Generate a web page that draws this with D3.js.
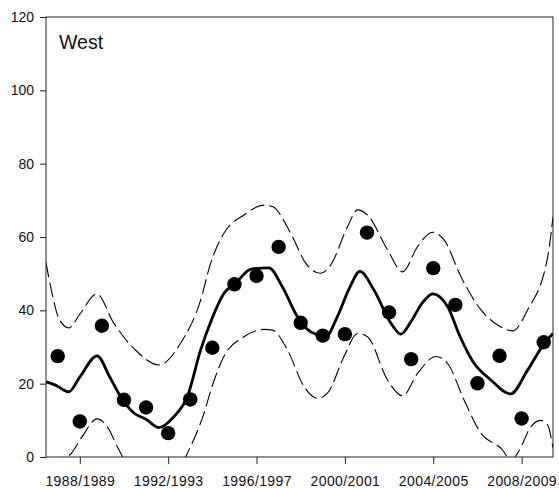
<!DOCTYPE html>
<html>
<head>
<meta charset="utf-8">
<script src="https://cdn.jsdelivr.net/npm/d3@7"></script>
<style>
  html, body { margin: 0; padding: 0; background: #fff; }
  svg { display: block; }
  text { font-family: "Liberation Sans", Arial, sans-serif; fill: #111; }
</style>
</head>
<body>
<svg id="chart" width="559" height="488"></svg>
<script>
// ---- data ----
const panelTitle = "West";
const obsYears = [1987,1988,1989,1990,1991,1992,1993,1994,1995,1996,1997,1998,1999,2000,2001,2002,2003,2004,2005,2006,2007,2008,2009];
const obsValues = [27.5,9.7,35.8,15.6,13.5,6.5,15.7,29.8,47.1,49.4,57.3,36.6,33.1,33.5,61.2,39.4,26.7,51.5,41.5,20.1,27.6,10.5,31.3];

const fitYears = [1986.47,1986.9,1987.5,1988.0,1988.78,1989.35,1989.84,1990.45,1991.0,1991.58,1992.26,1992.87,1993.47,1994.0,1994.52,1995.05,1995.73,1996.56,1997.17,1997.85,1998.3,1998.76,1999.13,1999.66,2000.2,2000.68,2001.32,2002.08,2002.53,2003.0,2003.5,2003.97,2004.65,2005.2,2005.8,2006.61,2007.5,2008.27,2009.03,2009.42];
const fitValues = [20.5,19.6,17.8,21.8,27.6,21.9,16.5,12.0,10.3,8.0,11.0,16.5,29.2,38.0,44.6,47.4,51.2,51.6,46.4,38.3,34.8,33.3,32.8,38.3,46.0,50.6,45.5,36.5,33.5,37.0,42.0,44.5,41.0,33.0,26.0,21.0,17.2,23.7,31.0,33.7];

const upperYears = [1986.47,1986.75,1987.05,1987.5,1988.03,1988.76,1989.54,1990.6,1991.58,1992.56,1993.47,1993.92,1994.52,1995.43,1996.34,1996.72,1997.55,1998.23,1998.9,1999.36,2000.12,2000.57,2001.02,2001.93,2002.61,2003.29,2003.97,2004.49,2005.25,2006.16,2006.91,2007.6,2008.27,2009.18,2009.42];
const upperValues = [53.0,44.5,37.8,35.2,39.2,44.5,36.5,28.7,25.1,31.0,42.8,52.8,61.0,66.0,68.7,68.3,61.0,52.8,50.1,52.4,62.8,67.4,66.0,56.5,50.5,57.4,61.3,59.2,49.2,40.1,36.0,34.4,40.1,54.6,65.5];

const lowerYears = [1986.47,1987.0,1987.25,1987.55,1988.1,1988.78,1989.24,1989.7,1990.3,1991.0,1991.6,1992.3,1992.79,1993.62,1994.0,1994.52,1995.43,1996.34,1996.72,1997.4,1998.15,1998.76,1999.21,1999.96,2000.57,2001.02,2001.93,2002.61,2003.29,2004.12,2004.65,2005.4,2006.16,2007.06,2007.55,2007.9,2008.42,2008.87,2009.18,2009.42];
const lowerValues = [-14,-3,-0.2,0.6,5.5,10.4,8.3,2.8,-4,-10,-12,-6,0,11.9,19.5,27.4,32.8,34.8,34.6,29.2,19.2,16.0,17.4,27.4,33.7,32.8,21.0,16.7,22.8,27.4,25.5,15.5,6.5,2.4,-0.8,1.9,8.3,10.0,8.7,2.4];

const xTickYears = [1988,1992,1996,2000,2004,2008];
const xTickLabels = ["1988/1989","1992/1993","1996/1997","2000/2001","2004/2005","2008/2009"];
const yTicks = [0,20,40,60,80,100,120];

// ---- layout ----
const svg = d3.select("#chart");
const L = 46, R = 553, T = 17, B = 457;
const x = d3.scaleLinear().domain([1986.47, 2009.42]).range([L, R]);
const y = d3.scaleLinear().domain([0, 120]).range([B, T]);

svg.append("rect").attr("width", 559).attr("height", 488).attr("fill", "#fff");

svg.append("defs").append("clipPath").attr("id", "plotclip")
  .append("rect").attr("x", L).attr("y", T).attr("width", R - L).attr("height", B - T);

const plot = svg.append("g").attr("clip-path", "url(#plotclip)");

const line = (xs, vs) => d3.line()
  .x((d, i) => x(xs[i]))
  .y((d, i) => y(vs[i]))
  .curve(d3.curveMonotoneX)(vs);

plot.append("path").attr("d", line(upperYears, upperValues))
  .attr("fill", "none").attr("stroke", "#000").attr("stroke-width", 1.1)
  .attr("stroke-dasharray", "15,5");
plot.append("path").attr("d", line(lowerYears, lowerValues))
  .attr("fill", "none").attr("stroke", "#000").attr("stroke-width", 1.1)
  .attr("stroke-dasharray", "15,5");
plot.append("path").attr("d", line(fitYears, fitValues))
  .attr("fill", "none").attr("stroke", "#000").attr("stroke-width", 2.8)
  .attr("stroke-linejoin", "round");

plot.selectAll("circle.obs").data(obsValues).enter().append("circle")
  .attr("class", "obs")
  .attr("cx", (d, i) => x(obsYears[i]))
  .attr("cy", d => y(d))
  .attr("r", 7.2)
  .attr("fill", "#000");

// ---- axes ----
const yAxis = d3.axisLeft(y).tickValues(yTicks).tickSize(6).tickPadding(6).tickFormat(d3.format("d"));
const gy = svg.append("g").attr("transform", `translate(${L},0)`).call(yAxis);
gy.select(".domain").remove();
gy.selectAll("line").attr("stroke", "#222");
gy.selectAll("text").style("font-size", "14px").style("font-family", "'Liberation Sans', Arial, sans-serif").attr("fill", "#111");

const xAxis = d3.axisBottom(x).tickValues(xTickYears).tickSize(7).tickPadding(12)
  .tickFormat((d, i) => xTickLabels[i]);
const gx = svg.append("g").attr("transform", `translate(0,${B})`).call(xAxis);
gx.select(".domain").remove();
gx.selectAll("line").attr("stroke", "#222");
gx.selectAll("text").style("font-size", "14px").style("letter-spacing", "0.4px")
  .style("font-family", "'Liberation Sans', Arial, sans-serif").attr("fill", "#111");

// frame
svg.append("rect").attr("x", L).attr("y", T).attr("width", R - L).attr("height", B - T)
  .attr("fill", "none").attr("stroke", "#222").attr("stroke-width", 1);

// panel title
svg.append("text").attr("x", 59).attr("y", 49).text(panelTitle)
  .style("font-size", "19.5px");
</script>
</body>
</html>
